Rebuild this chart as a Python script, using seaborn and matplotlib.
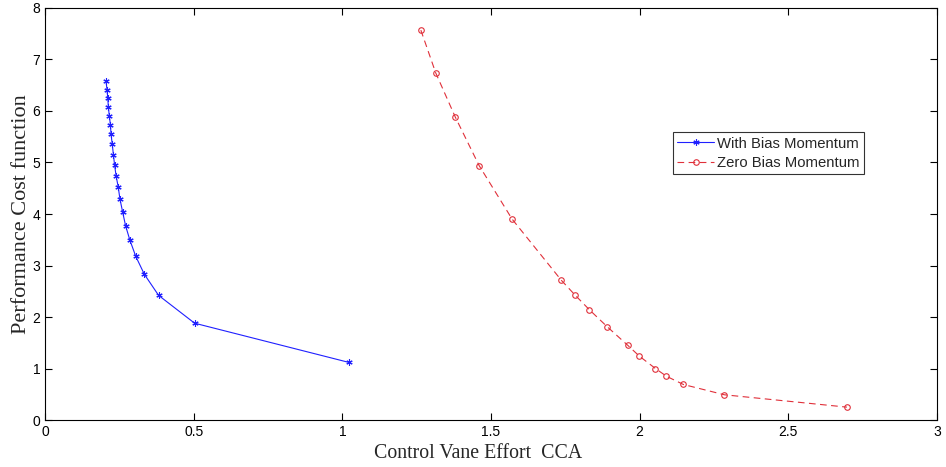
import matplotlib
matplotlib.use("Agg")
import matplotlib.pyplot as plt
import seaborn as sns
import pandas as pd

# With Bias Momentum
bias_x = [0.205, 0.2085, 0.211, 0.213, 0.216, 0.220, 0.222, 0.226, 0.230, 0.234,
          0.239, 0.246, 0.252, 0.261, 0.271, 0.285, 0.305, 0.334, 0.382, 0.503, 1.021]
bias_y = [6.59, 6.41, 6.25, 6.08, 5.91, 5.73, 5.55, 5.36, 5.15, 4.95,
          4.74, 4.53, 4.29, 4.04, 3.77, 3.50, 3.18, 2.83, 2.42, 1.88, 1.12]

# Zero Bias Momentum
zero_x = [1.264, 1.314, 1.380, 1.460, 1.571, 1.737, 1.782, 1.831, 1.891, 1.960,
          1.999, 2.053, 2.090, 2.147, 2.285, 2.697]
zero_y = [7.57, 6.74, 5.88, 4.94, 3.90, 2.71, 2.43, 2.14, 1.81, 1.45,
          1.24, 1.00, 0.85, 0.69, 0.49, 0.25]

x_ticks = [0, 0.5, 1, 1.5, 2, 2.5, 3]
x_tick_labels = ["0", "0.5", "1", "1.5", "2", "2.5", "3"]
y_ticks = [0, 1, 2, 3, 4, 5, 6, 7, 8]
y_tick_labels = ["0", "1", "2", "3", "4", "5", "6", "7", "8"]

sns.set_style("white")
plt.rcParams['font.family'] = ['Liberation Sans', 'DejaVu Sans']

fig = plt.figure(figsize=(9.46, 4.67), dpi=100)
ax = fig.add_axes([0.0476, 0.1006, 0.9429, 0.8823])

df_b = pd.DataFrame({"x": bias_x, "y": bias_y})
df_z = pd.DataFrame({"x": zero_x, "y": zero_y})

sns.lineplot(data=df_b, x="x", y="y", sort=False, ax=ax, color="#2020ff",
             linewidth=0.8, marker=(6, 2, 0), markersize=4.5, markeredgewidth=0.8,
             markeredgecolor="#2020ff", label="With Bias Momentum")
sns.lineplot(data=df_z, x="x", y="y", sort=False, ax=ax, color="#e0303a",
             linewidth=0.8, linestyle=(0, (6, 4)), marker="o", markersize=4,
             markerfacecolor="none", markeredgecolor="#e0303a", markeredgewidth=0.8,
             label="Zero Bias Momentum")

ax.set_xlim(0, 3)
ax.set_ylim(0, 8)
ax.set_xticks(x_ticks)
ax.set_xticklabels(x_tick_labels)
ax.set_yticks(y_ticks)
ax.set_yticklabels(y_tick_labels)
ax.tick_params(direction="in", length=5, width=0.8, labelsize=10, colors="black",
               top=True, right=True, bottom=True, left=True,
               labeltop=False, labelright=False)
for s in ax.spines.values():
    s.set_color("black")
    s.set_linewidth(0.8)

ax.set_xlabel("Control Vane Effort  CCA", family=["Liberation Serif"], fontsize=14.3, labelpad=5)
ax.set_ylabel("Performance Cost function", family=["Liberation Serif"], fontsize=16, labelpad=1)
ax.xaxis.set_label_coords(0.486, -0.058, transform=ax.transAxes)
ax.xaxis.label.set_va("top")

leg = ax.legend(loc="upper left", bbox_to_anchor=(0.711, 0.717), bbox_transform=fig.transFigure,
                fontsize=10.7, frameon=True, fancybox=False, borderpad=0.3,
                handlelength=2.5, handletextpad=0.2, labelspacing=0.35, borderaxespad=0)
leg.get_frame().set_edgecolor("black")
leg.get_frame().set_linewidth(0.8)

fig.savefig("out.png", dpi=100)
